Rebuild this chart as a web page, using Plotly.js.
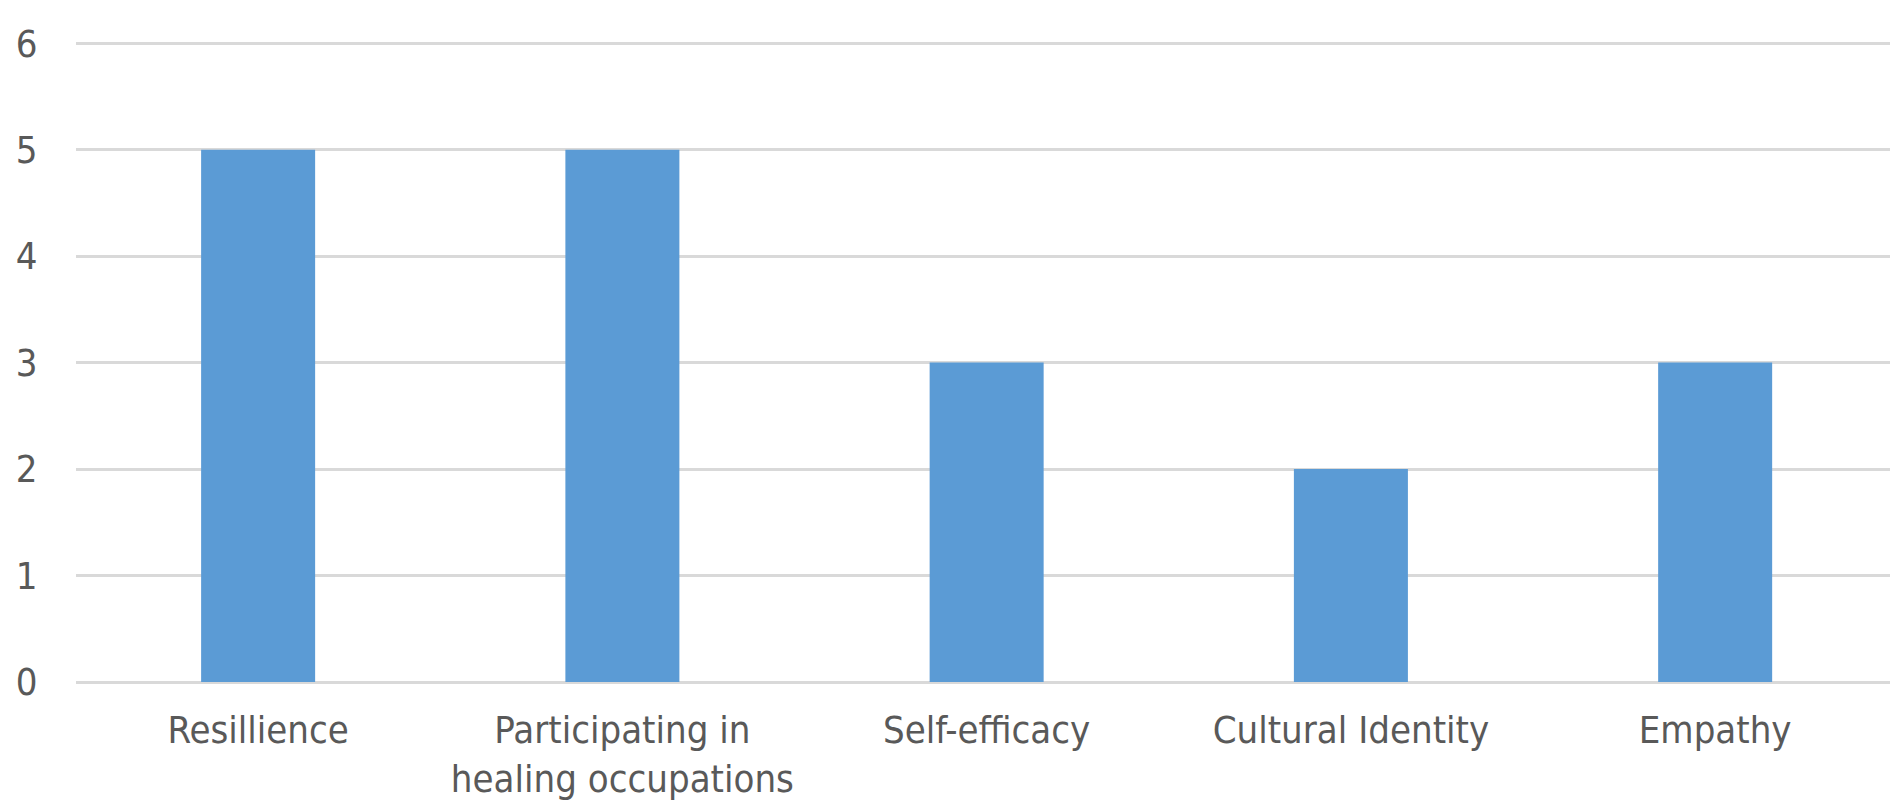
<!DOCTYPE html>
<html>
<head>
<meta charset="utf-8">
<script src="https://cdn.plot.ly/plotly-3.0.1.min.js"></script>
<style>
html,body{margin:0;padding:0;background:#fff;overflow:hidden;}
#chart{width:1890px;height:808px;}
</style>
</head>
<body>
<div id="chart"></div>
<script>
const categories = ["Resillience", "Participating in<br>healing occupations", "Self-efficacy", "Cultural Identity", "Empathy"];
const values = [5, 5, 3, 2, 3];
const yTicks = [0, 1, 2, 3, 4, 5, 6];

const fontFamily = "'Liberation Sans Narrow', 'DejaVu Sans Condensed', 'Arial Narrow', sans-serif";

const trace = {
  type: "bar",
  x: categories.map((c, i) => i),
  y: values,
  marker: {color: "#5B9BD5", line: {width: 0}},
  hoverinfo: "skip"
};

const layout = {
  width: 1890,
  height: 808,
  margin: {l: 76, r: 0, t: 40, b: 126},
  paper_bgcolor: "#ffffff",
  plot_bgcolor: "#ffffff",
  showlegend: false,
  bargap: 0.687,
  font: {family: fontFamily, size: 38, color: "#595959"},
  xaxis: {
    range: [-0.5, 4.48],
    tickmode: "array",
    tickvals: categories.map((c, i) => i),
    ticktext: categories,
    showgrid: false,
    zeroline: false,
    showline: false,
    ticks: "outside",
    ticklen: 14,
    tickcolor: "rgba(0,0,0,0)",
    tickfont: {family: fontFamily, size: 38, color: "#595959"}
  },
  yaxis: {
    range: [0, 6.03],
    tickmode: "array",
    tickvals: yTicks,
    showgrid: true,
    gridcolor: "#d9d9d9",
    gridwidth: 3,
    zeroline: true,
    zerolinecolor: "#d9d9d9",
    zerolinewidth: 3,
    showline: false,
    ticks: "outside",
    ticklen: 30,
    tickcolor: "rgba(0,0,0,0)",
    tickfont: {family: fontFamily, size: 38, color: "#595959"}
  }
};

Plotly.newPlot("chart", [trace], layout, {staticPlot: true, displayModeBar: false});
</script>
</body>
</html>
